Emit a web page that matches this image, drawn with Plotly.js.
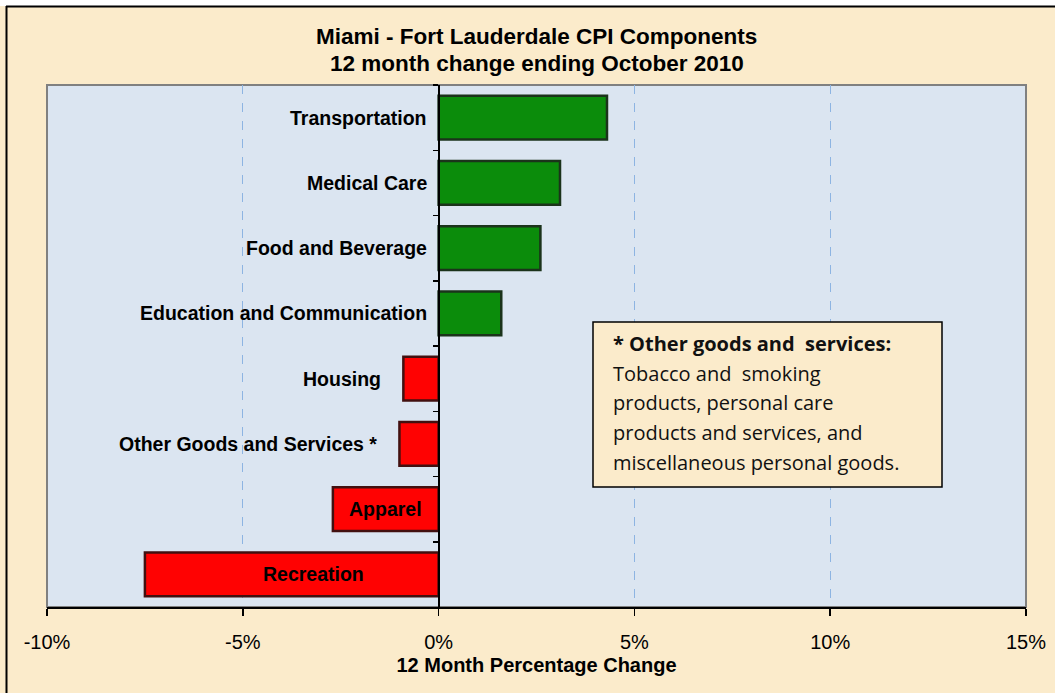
<!DOCTYPE html>
<html>
<head>
<meta charset="utf-8">
<script src="https://cdn.plot.ly/plotly-3.0.1.min.js"></script>
<style>html,body{margin:0;padding:0;background:#fff;}#chart{width:1055px;height:693px;}</style>
</head>
<body>
<div id="chart"></div>
<script>
// ---- data ----
const categories = [
  "Transportation",
  "Medical Care",
  "Food and Beverage",
  "Education and Communication",
  "Housing",
  "Other Goods and Services *",
  "Apparel",
  "Recreation"
];
const values = [4.3, 3.1, 2.6, 1.6, -0.9, -1.0, -2.7, -7.5];
const xTicks = [-10, -5, 0, 5, 10, 15];
const titleLines = ["Miami - Fort Lauderdale CPI Components", "12 month change ending October 2010"];
const noteTitle = "* Other goods and  services:";
const noteLines = [
  "Tobacco and  smoking",
  "products, personal care",
  "products and services, and",
  "miscellaneous personal goods."
];

const colors = values.map(v => v >= 0 ? "#0B8C0B" : "#FF0202");
const lineColors = values.map(v => v >= 0 ? "#1B331B" : "#421010");

const bars = {
  type: "bar",
  orientation: "h",
  y: categories,
  x: values,
  marker: {color: colors, line: {color: lineColors, width: 2.5}},
  width: 0.67,
  hoverinfo: "x+y",
  showlegend: false
};

// category labels placed next to / inside the bars
const labelAnn = categories.map((c, i) => {
  const v = values[i];
  let a = {x: 0, y: c, xref: "x", yref: "y", text: c, showarrow: false,
           font: {family: "Liberation Sans, Arial, sans-serif", size: 19.5, color: "#000", weight: "bold"}};
  if (v >= 0) { a.xanchor = "right"; a.xshift = -10; }
  else if (v > -1.5) { a.x = v; a.xanchor = "right"; a.xshift = -20; }
  else { a.x = v / 2; a.xanchor = "center"; if (v < -5) a.xshift = 22; }
  return a;
});

// paper helpers (plot area: left 47, right 1026, top 85, bottom 607)
const L = 47, R = 1026, T = 85, B = 607;
const px = p => (p - L) / (R - L);
const py = p => (B - p) / (B - T);

const titleAnn = titleLines.map((t, i) => ({
  xref: "paper", yref: "paper", x: 0.5, y: py(37 + i * 26), xanchor: "center", yanchor: "middle",
  text: "<b>" + t + "</b>", showarrow: false,
  font: {family: "Liberation Sans, Arial, sans-serif", size: 22.5, color: "#000"}
}));

const noteFont = {family: "Open Sans, Noto Sans, sans-serif", size: 20, color: "#111"};
const noteAnn = [{
  xref: "paper", yref: "paper", x: px(611), y: py(343), xanchor: "left", yanchor: "middle",
  text: "<b>" + noteTitle + "</b>", showarrow: false, font: noteFont
}].concat(noteLines.map((t, i) => ({
  xref: "paper", yref: "paper", x: px(611), y: py(373 + i * 29.7), xanchor: "left", yanchor: "middle",
  text: t, showarrow: false, font: noteFont
})));

const layout = {
  width: 1055, height: 693,
  margin: {l: L, r: 1055 - R, t: T, b: 693 - B, pad: 0},
  paper_bgcolor: "#FBEBCB",
  plot_bgcolor: "#DBE5F1",
  font: {family: "Liberation Sans, Arial, sans-serif", color: "#000"},
  xaxis: {
    range: [-10, 15],
    tickvals: xTicks,
    ticktext: xTicks.map(t => t + "%"),
    tickfont: {size: 20, color: "#000"},
    ticks: "outside", ticklen: 7, tickwidth: 1.5, tickcolor: "#000",
    ticklabelstandoff: 9,
    showline: true, linecolor: "#000", linewidth: 2,
    showgrid: true, gridcolor: "#8DB4E2", griddash: "dash", gridwidth: 1,
    zeroline: false,
    fixedrange: true,
    title: {text: "<b>12 Month Percentage Change</b>", font: {size: 20, color: "#000"}, standoff: 6}
  },
  yaxis: {
    type: "category",
    categoryorder: "array", categoryarray: categories,
    autorange: "reversed",
    anchor: "free", position: 10 / 25,
    showline: true, linecolor: "#000", linewidth: 2,
    ticks: "outside", ticklen: 5, tickcolor: "#000", tickwidth: 1.5,
    tickson: "boundaries",
    showticklabels: false,
    showgrid: false, zeroline: false,
    fixedrange: true
  },
  bargap: 0.33,
  shapes: [
    // plot-area border
    {type: "rect", xref: "paper", yref: "paper", x0: 0, x1: 1, y0: 0, y1: 1,
     line: {color: "#808080", width: 2}, fillcolor: "rgba(0,0,0,0)", layer: "below"},
    // note box
    {type: "rect", xref: "paper", yref: "paper", x0: px(593), x1: px(942), y0: py(487), y1: py(322),
     line: {color: "#000", width: 1.5}, fillcolor: "#FBEBCB", layer: "above"},
    // white strip above the frame
    {type: "rect", xref: "paper", yref: "paper", x0: px(-5), x1: px(1060), y0: py(6), y1: py(-5),
     line: {width: 0}, fillcolor: "#FFFFFF", layer: "above"},
    // outer frame: top and left
    {type: "line", xref: "paper", yref: "paper", x0: px(6), x1: px(1060), y0: py(6.5), y1: py(6.5),
     line: {color: "#000", width: 2}},
    {type: "line", xref: "paper", yref: "paper", x0: px(6.5), x1: px(6.5), y0: py(6), y1: py(700),
     line: {color: "#000", width: 2}}
  ],
  annotations: titleAnn.concat(labelAnn, noteAnn)
};

Plotly.newPlot("chart", [bars], layout, {displayModeBar: false, staticPlot: true});
</script>
</body>
</html>
